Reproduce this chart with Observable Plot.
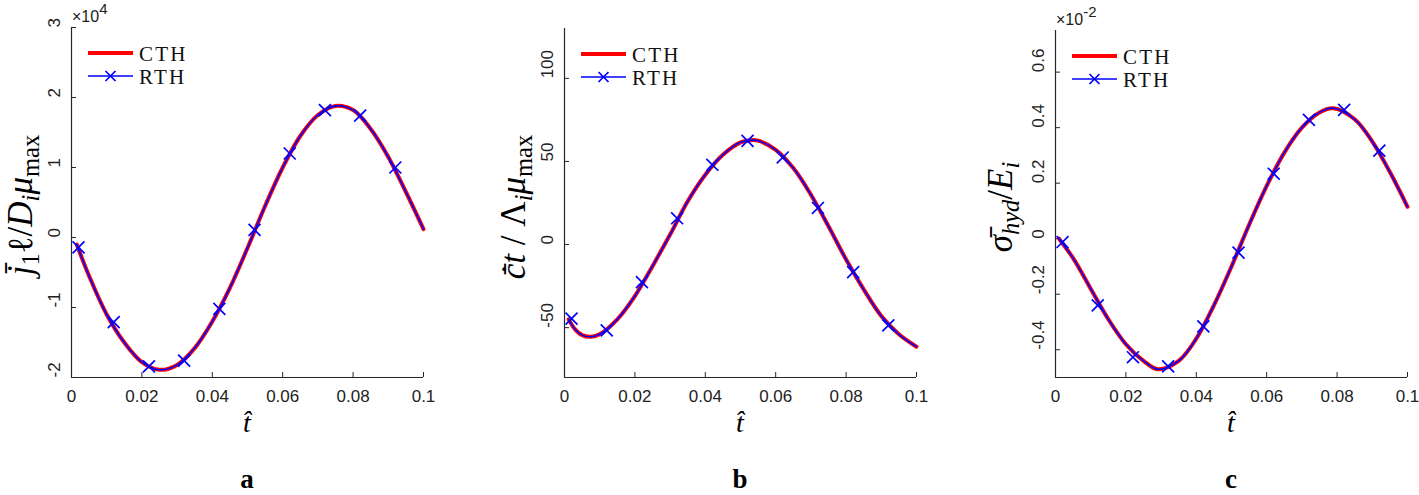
<!DOCTYPE html>
<html><head><meta charset="utf-8">
<script src="https://cdn.jsdelivr.net/npm/d3@7"></script>
<script src="https://cdn.jsdelivr.net/npm/@observablehq/plot@0.6"></script>
<style>
body{margin:0;background:#fff;width:1419px;height:495px;overflow:hidden;position:relative;font-family:"Liberation Sans",Arial,sans-serif}
.panel{position:absolute;top:0}
.tag{position:absolute;top:464px;font:bold 27px "Liberation Serif",serif;transform:translateX(-50%);color:#000}
</style></head><body>
<div id="root"></div>
<script>
// ---- data ----
const xTicks = [0, 0.02, 0.04, 0.06, 0.08, 0.1];
const markT = [0.002, 0.012, 0.022, 0.032, 0.042, 0.052, 0.062, 0.072, 0.082, 0.092];

// panel a (x10^4)
const tA = [0.0015, 0.005, 0.010, 0.015, 0.020, 0.025, 0.030, 0.035, 0.040, 0.045, 0.050, 0.055, 0.060, 0.065, 0.070, 0.075, 0.080, 0.085, 0.090, 0.095, 0.100];
const cthA = [-0.1, -0.55, -1.1, -1.5, -1.78, -1.89, -1.82, -1.58, -1.2, -0.72, -0.15, 0.45, 1.0, 1.45, 1.75, 1.88, 1.82, 1.55, 1.15, 0.65, 0.12];
const rthA = [-0.14, -1.21, -1.84, -1.76, -1.02, 0.11, 1.2, 1.82, 1.74, 1.0];
const yTicksA = [-2, -1, 0, 1, 2, 3];

// panel b
const tB = [0.0012, 0.003, 0.005, 0.0075, 0.010, 0.015, 0.020, 0.025, 0.030, 0.035, 0.040, 0.045, 0.050, 0.053, 0.055, 0.060, 0.065, 0.070, 0.075, 0.080, 0.085, 0.090, 0.095, 0.100];
const cthB = [-45, -51, -54.5, -55.5, -54, -45, -31, -13, 6, 26, 42, 54, 61.5, 62.8, 62.5, 57, 46, 30, 11, -9, -27, -43, -54, -61.5];
const rthB = [-44.6, -51.6, -22.6, 15.8, 48, 62.4, 52.4, 22, -16.6, -48.6];
const yTicksB = [-50, 0, 50, 100];

// panel c (x10^-2)
const tC = [0.001, 0.005, 0.010, 0.015, 0.020, 0.025, 0.029, 0.035, 0.040, 0.045, 0.050, 0.055, 0.060, 0.065, 0.070, 0.075, 0.079, 0.085, 0.090, 0.095, 0.100];
const cthC = [0.0, -0.07, -0.18, -0.29, -0.38, -0.44, -0.47, -0.44, -0.36, -0.24, -0.10, 0.05, 0.19, 0.31, 0.40, 0.455, 0.47, 0.43, 0.35, 0.24, 0.115];
const rthC = [-0.012, -0.24, -0.427, -0.46, -0.316, -0.05, 0.234, 0.428, 0.464, 0.317];
const yTicksC = [-0.4, -0.2, 0, 0.2, 0.4, 0.6];

const legendLabels = ["CTH", "RTH"];
const tagLabels = ["a", "b", "c"];

// ---- drawing ----
const AX = "#262626";
function rich(sel, parts, size) {
  let shift = 0;
  for (const p of parts) {
    const target = p.sub ? 0.28 * size : p.sup ? -0.42 * size : 0;
    sel.append("tspan").text(p.t).attr("dy", target - shift)
      .style("font-size", (p.sub || p.sup ? 0.7 * size : size) + "px")
      .style("font-style", p.it ? "italic" : "normal");
    shift = target;
  }
}

function panel(o) {
  const H = 440, bottom = 377;
  const curve = o.t.map((t, i) => ({t, v: o.cth[i]}));
  const pts = markT.map((t, i) => ({t, v: o.rth[i]}));
  const fmt = o.fmt || (d => String(d));
  const svg = Plot.plot({
    width: o.width, height: H,
    marginLeft: o.mL, marginRight: o.mR, marginTop: o.mT, marginBottom: H - bottom,
    style: {fontFamily: '"Liberation Sans", Arial, sans-serif', fontSize: "17px", background: "none", color: "#222"},
    x: {domain: [0, 0.1]},
    y: {domain: o.yDomain},
    marks: [
      Plot.axisX(xTicks, {tickSize: -5, text: null, stroke: AX, label: null}),
      Plot.axisX(xTicks, {tickSize: 0, tickPadding: 12, tickFormat: d => String(d), fontSize: 17, fill: "#222", label: null}),
      Plot.axisY(o.yTicks, {tickSize: -5, text: null, stroke: AX, label: null}),
      Plot.text(o.yTicks, {y: d => d, text: fmt, frameAnchor: "left", dx: -16.5, rotate: -90, fontSize: 17, fill: "#222"}),
      Plot.ruleX([0], {stroke: AX, strokeWidth: 1.2}),
      Plot.ruleY([o.yDomain[0]], {stroke: AX, strokeWidth: 1.2}),
      Plot.line(curve, {x: "t", y: "v", stroke: "#ff0000", strokeWidth: 4, curve: "catmull-rom"}),
      Plot.line(curve, {x: "t", y: "v", stroke: "#0000ff", strokeWidth: 1.6, curve: "catmull-rom"}),
      Plot.dot(pts, {x: "t", y: "v", symbol: "times", r: 5.5, stroke: "#0000ff", strokeWidth: 1.7})
    ]
  });
  const s = d3.select(svg);
  const L = o.mL;
  // legend
  const lg = s.append("g").attr("text-anchor", "start");
  const ly = [o.mT + 26, o.mT + 49];
  lg.append("line").attr("x1", L + 17).attr("x2", L + 62).attr("y1", ly[0]).attr("y2", ly[0]).attr("stroke", "#ff0000").attr("stroke-width", 4);
  lg.append("line").attr("x1", L + 17).attr("x2", L + 62).attr("y1", ly[1]).attr("y2", ly[1]).attr("stroke", "#0000ff").attr("stroke-width", 1.6);
  const cx = L + 39.5, cy = ly[1], r = 5;
  lg.append("path").attr("d", `M${cx - r},${cy - r}L${cx + r},${cy + r}M${cx - r},${cy + r}L${cx + r},${cy - r}`).attr("stroke", "#0000ff").attr("stroke-width", 1.7);
  legendLabels.forEach((lab, i) => {
    lg.append("text").attr("text-anchor", "start").attr("x", L + 68).attr("y", ly[i] + 7.5).text(lab)
      .style("font-family", '"Liberation Serif", serif').style("font-size", "21px").style("letter-spacing", "2.2px").attr("fill", "#111");
  });
  // exponent
  if (o.exp) {
    const e = s.append("text").attr("text-anchor", "start").attr("x", L + 1).attr("y", o.mT - 5).style("font-size", "16px").attr("fill", "#222");
    e.append("tspan").text("×10");
    e.append("tspan").text(o.exp).attr("dy", -8).style("font-size", "15px");
  }
  // y label
  const yl = s.append("text").attr("transform", `translate(${o.ylx},${o.yly}) rotate(-90)`)
    .attr("text-anchor", "middle").attr("dominant-baseline", "central")
    .style("font-family", '"Liberation Serif", serif').attr("fill", "#000");
  rich(yl, o.ylabel, 35);
  // x label
  const xl = s.append("text").attr("x", (L + o.width - o.mR) / 2).attr("y", 432)
    .attr("text-anchor", "middle").style("font-family", '"Liberation Serif", serif').style("font-size", "28px").style("font-style", "italic").attr("fill", "#000");
  xl.text("t\u0302");
  const div = document.createElement("div");
  div.className = "panel";
  div.style.left = o.left + "px";
  div.appendChild(svg);
  document.getElementById("root").appendChild(div);
  const tag = document.createElement("div");
  tag.className = "tag";
  tag.style.left = (o.left + (L + o.width - o.mR) / 2) + "px";
  tag.textContent = o.tag;
  document.getElementById("root").appendChild(tag);
}

panel({left: 0, width: 473, mL: 71, mR: 50, mT: 27, yDomain: [-2, 3], yTicks: yTicksA,
  t: tA, cth: cthA, rth: rthA, exp: "4", ylx: 20, yly: 205, tag: tagLabels[0],
  ylabel: [{t: "j\u0304", it: true}, {t: "1", sub: true}, {t: "ℓ"}, {t: "/"}, {t: "D", it: true}, {t: "i", sub: true, it: true}, {t: "μ", it: true}, {t: "max", sub: true}]});
panel({left: 473, width: 473, mL: 91, mR: 30, mT: 28, yDomain: [-80, 130], yTicks: yTicksB,
  t: tB, cth: cthB, rth: rthB, ylx: 40, yly: 207, tag: tagLabels[1],
  ylabel: [{t: "c\u0304\u0307", it: true}, {t: "t", it: true}, {t: " / "}, {t: "Λ"}, {t: "i", sub: true, it: true}, {t: "μ", it: true}, {t: "max", sub: true}]});
panel({left: 946, width: 473, mL: 109, mR: 12, mT: 30, yDomain: [-0.5, 0.75], yTicks: yTicksC,
  t: tC, cth: cthC, rth: rthC, exp: "-2", ylx: 54, yly: 207, tag: tagLabels[2],
  ylabel: [{t: "σ\u0304", it: true}, {t: "hyd", sub: true, it: true}, {t: "/"}, {t: "E", it: true}, {t: "i", sub: true, it: true}]});
</script>
</body></html>
